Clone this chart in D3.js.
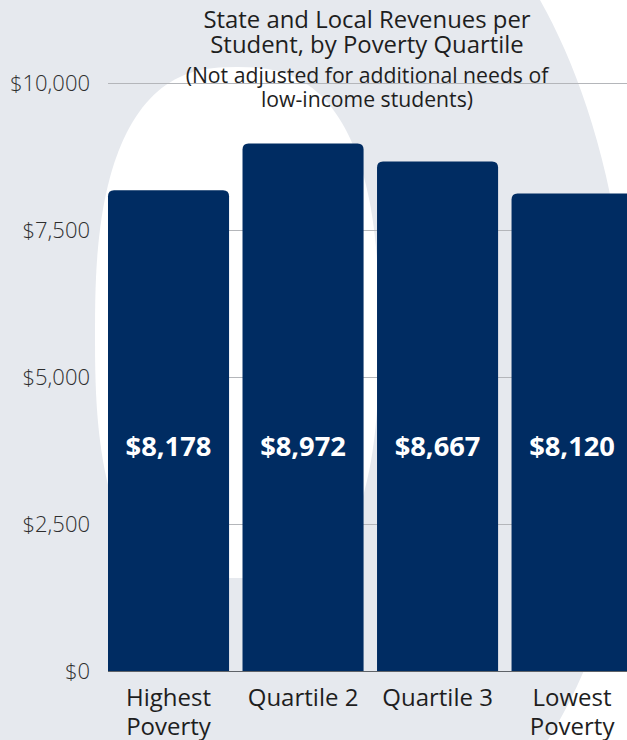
<!DOCTYPE html>
<html>
<head>
<meta charset="utf-8">
<script src="https://cdn.jsdelivr.net/npm/d3@7"></script>
<style>
  html, body { margin: 0; padding: 0; background: #ffffff; }
  svg { display: block; font-family: "Open Sans", "Noto Sans", sans-serif; }
</style>
</head>
<body>
<svg id="chart" width="627" height="740"></svg>
<script>
// Revenue per student by poverty quartile
const categories = [["Highest", "Poverty"], ["Quartile 2"], ["Quartile 3"], ["Lowest", "Poverty"]];
const revenues = [8178, 8972, 8667, 8120];
const yTicks = [0, 2500, 5000, 7500, 10000];
const titleLines = ["State and Local Revenues per", "Student, by Poverty Quartile"];
const subtitleLines = ["(Not adjusted for additional needs of", "low-income students)"];

const W = 627, H = 740;
const svg = d3.select("#chart");

// Decorative backdrop: a large grey rounded "0" shape
const bg = svg.append("g");
bg.append("rect").attr("width", W).attr("height", H).attr("fill", "#ffffff");
bg.append("path")
  .attr("fill", "#e6e9ee")
  .attr("d", "M540,0 C585,80 625,200 632,380 C636,520 610,640 548,740 L-10,740 L-10,-10 L540,-10 Z");

// inner white hole as a superellipse, cut flat near the bottom
const hole = { cx: 237, cy: 335, rx: 142, ry: 268, n: 2.6, cut: 578 };
const holePts = d3.range(0, 361, 2).map(a => {
  const t = a * Math.PI / 180;
  const c = Math.cos(t), s = Math.sin(t);
  const x = hole.cx + hole.rx * Math.sign(c) * Math.pow(Math.abs(c), 2 / hole.n);
  const y = hole.cy + hole.ry * Math.sign(s) * Math.pow(Math.abs(s), 2 / hole.n);
  return [x, Math.min(y, hole.cut)];
});
bg.append("path")
  .attr("fill", "#ffffff")
  .attr("d", d3.line().curve(d3.curveLinearClosed)(holePts));

// Scales
const y = d3.scaleLinear().domain([0, 10000]).range([671, 83]);
const x = d3.scaleBand().domain(d3.range(categories.length))
  .range([108, 632.6]).paddingInner(0.1).paddingOuter(0);

// Gridlines and y-axis labels
const yAxis = d3.axisLeft(y).tickValues(yTicks)
  .tickFormat(d => "$" + d3.format(",")(d)).tickSize(0).tickPadding(18);
const yg = svg.append("g").attr("transform", "translate(108,0)").call(yAxis);
yg.select(".domain").remove();
yg.selectAll("text")
  .attr("font-family", "'Open Sans', sans-serif")
  .attr("font-size", 22).attr("font-weight", 300).attr("fill", "#2e2e2e");

svg.append("g").selectAll("line").data(yTicks.filter(d => d > 0)).join("line")
  .attr("x1", 108).attr("x2", W)
  .attr("y1", d => Math.round(y(d)) + 0.5).attr("y2", d => Math.round(y(d)) + 0.5)
  .attr("stroke", "#b4b6ba").attr("stroke-width", 1);

// Bars with rounded top corners
const r = 6;
function barPath(i, v) {
  const x0 = x(i), x1 = x(i) + x.bandwidth(), y0 = y(0), y1 = y(v);
  return `M${x0},${y0} L${x0},${y1 + r} Q${x0},${y1} ${x0 + r},${y1} L${x1 - r},${y1} Q${x1},${y1} ${x1},${y1 + r} L${x1},${y0} Z`;
}
svg.append("g").selectAll("path").data(revenues).join("path")
  .attr("d", (v, i) => barPath(i, v))
  .attr("fill", "#002c62");

// Baseline
svg.append("line")
  .attr("x1", 108).attr("x2", W)
  .attr("y1", y(0) + 0.5).attr("y2", y(0) + 0.5)
  .attr("stroke", "#5f6368").attr("stroke-width", 1.2);

// Value labels inside the bars
svg.append("g").selectAll("text").data(revenues).join("text")
  .attr("x", (v, i) => x(i) + x.bandwidth() / 2)
  .attr("y", 456)
  .attr("text-anchor", "middle")
  .attr("font-size", 27.3).attr("font-weight", 700).attr("fill", "#ffffff")
  .text(v => "$" + d3.format(",")(v));

// Category labels
const xl = svg.append("g").selectAll("text").data(categories).join("text")
  .attr("text-anchor", "middle")
  .attr("font-size", 24).attr("fill", "#1e1e1e")
  .attr("transform", (c, i) => `translate(${x(i) + x.bandwidth() / 2},706)`);
xl.selectAll("tspan").data(d => d).join("tspan")
  .attr("x", 0).attr("dy", (d, j) => j === 0 ? 0 : 29)
  .text(d => d);

// Title block
const tg = svg.append("g").attr("text-anchor", "middle").attr("fill", "#1e1e1e");
tg.selectAll("text.t").data(titleLines).join("text").attr("class", "t")
  .attr("x", 367).attr("y", (d, i) => 28 + i * 25)
  .attr("font-size", 23.9).text(d => d);
tg.selectAll("text.s").data(subtitleLines).join("text").attr("class", "s")
  .attr("x", 367).attr("y", (d, i) => 83 + i * 24)
  .attr("font-size", 21.2).text(d => d);
</script>
</body>
</html>
